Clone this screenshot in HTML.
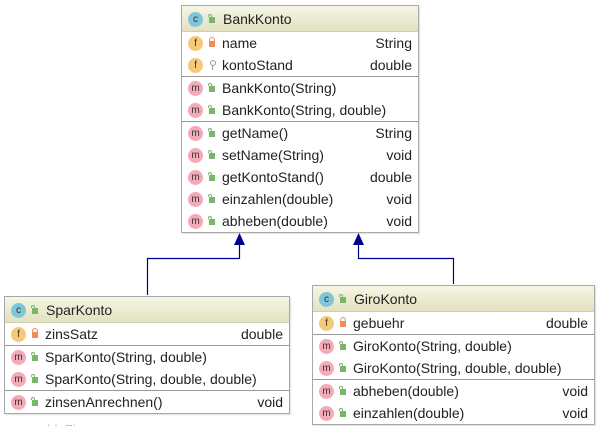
<!DOCTYPE html>
<html><head><meta charset="utf-8"><style>
*{margin:0;padding:0;box-sizing:border-box}
body{width:600px;height:426px;background:#fff;position:relative;overflow:hidden;font-family:"Liberation Sans",sans-serif;font-size:14px;color:#222}
.box{position:absolute;border:1px solid #a8a8a8;background:#fff;box-shadow:1px 1px 1px rgba(0,0,0,.12)}
.hd{height:26px;background:linear-gradient(#f6f6e6,#e2e1c0);border-bottom:1px solid #cfcfb0;position:relative}
.row{height:22px;position:relative;line-height:23px}
.sep{height:1px;background:#999}
.ic{position:absolute;left:6px;top:4px;width:15px;height:15px;border-radius:50%;font-size:10px;line-height:15px;text-align:center;color:#333}
.hd .ic{top:6px}
.c{background:#7fc6d8}.f{background:#f6c97a}.m{background:#f5aab8}
.lk{position:absolute;left:27px;top:9px;width:6px;height:6px;background:#79b66a}
.lk.o:before{content:"";position:absolute;left:-1px;top:-3px;width:2px;height:2px;border:1px solid #79b66a;border-bottom:none;border-radius:2px 2px 0 0}
.lk.p{background:#ef8c5a}
.lk.p:before{content:"";position:absolute;left:0px;top:-4px;width:4px;height:4px;border:1px solid #ef8c5a;border-bottom:none;border-radius:3px 3px 0 0}
.lk.k{background:none;left:28px;top:6px;width:4px;height:10px}
.lk.k:before{content:"";position:absolute;left:0;top:0;width:4px;height:4px;border:1px solid #999;border-radius:50%}
.lk.k:after{content:"";position:absolute;left:2px;top:5px;width:1px;height:5px;background:#999}
.hd .lk{top:11px}
.t{position:absolute;left:40px;top:0}
.hd .t{line-height:27px;left:41px}
.r{position:absolute;right:6px;top:0}
svg{position:absolute;left:0;top:0}
</style></head><body>
<svg width="600" height="426">
<g stroke="#000090" stroke-width="1.2" fill="none">
<polyline points="147.5,295 147.5,258.5 239.5,258.5 239.5,244"/>
<polyline points="453.5,284 453.5,258.5 358.5,258.5 358.5,244"/>
</g>
<polygon points="239.5,233 234,245 245,245" fill="#000090"/>
<polygon points="358.5,233 353,245 364,245" fill="#000090"/>
<text x="40" y="434" font-family="Liberation Sans" font-size="13" fill="#bbb">ableFi</text>
</svg>

<div class="box" style="left:181px;top:5px;width:238px;height:228px">
<div class="hd"><span class="ic c">c</span><span class="lk o"></span><span class="t">BankKonto</span></div>
<div class="row"><span class="ic f">f</span><span class="lk p"></span><span class="t">name</span><span class="r">String</span></div>
<div class="row"><span class="ic f">f</span><span class="lk k"></span><span class="t">kontoStand</span><span class="r">double</span></div>
<div class="sep"></div>
<div class="row"><span class="ic m">m</span><span class="lk o"></span><span class="t">BankKonto(String)</span></div>
<div class="row"><span class="ic m">m</span><span class="lk o"></span><span class="t">BankKonto(String, double)</span></div>
<div class="sep"></div>
<div class="row"><span class="ic m">m</span><span class="lk o"></span><span class="t">getName()</span><span class="r">String</span></div>
<div class="row"><span class="ic m">m</span><span class="lk o"></span><span class="t">setName(String)</span><span class="r">void</span></div>
<div class="row"><span class="ic m">m</span><span class="lk o"></span><span class="t">getKontoStand()</span><span class="r">double</span></div>
<div class="row"><span class="ic m">m</span><span class="lk o"></span><span class="t">einzahlen(double)</span><span class="r">void</span></div>
<div class="row"><span class="ic m">m</span><span class="lk o"></span><span class="t">abheben(double)</span><span class="r">void</span></div>
</div>

<div class="box" style="left:4px;top:296px;width:286px;height:118px">
<div class="hd"><span class="ic c">c</span><span class="lk o"></span><span class="t">SparKonto</span></div>
<div class="row"><span class="ic f">f</span><span class="lk p"></span><span class="t">zinsSatz</span><span class="r">double</span></div>
<div class="sep"></div>
<div class="row"><span class="ic m">m</span><span class="lk o"></span><span class="t">SparKonto(String, double)</span></div>
<div class="row"><span class="ic m">m</span><span class="lk o"></span><span class="t">SparKonto(String, double, double)</span></div>
<div class="sep"></div>
<div class="row"><span class="ic m">m</span><span class="lk o"></span><span class="t">zinsenAnrechnen()</span><span class="r">void</span></div>
</div>

<div class="box" style="left:312px;top:285px;width:283px;height:140px">
<div class="hd"><span class="ic c">c</span><span class="lk o"></span><span class="t">GiroKonto</span></div>
<div class="row"><span class="ic f">f</span><span class="lk p"></span><span class="t">gebuehr</span><span class="r">double</span></div>
<div class="sep"></div>
<div class="row"><span class="ic m">m</span><span class="lk o"></span><span class="t">GiroKonto(String, double)</span></div>
<div class="row"><span class="ic m">m</span><span class="lk o"></span><span class="t">GiroKonto(String, double, double)</span></div>
<div class="sep"></div>
<div class="row"><span class="ic m">m</span><span class="lk o"></span><span class="t">abheben(double)</span><span class="r">void</span></div>
<div class="row"><span class="ic m">m</span><span class="lk o"></span><span class="t">einzahlen(double)</span><span class="r">void</span></div>
</div>
</body></html>
